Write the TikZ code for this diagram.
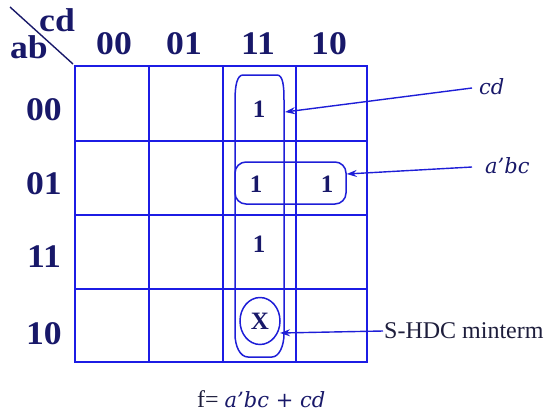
\documentclass[tikz,border=0pt]{standalone}
\usepackage{fontspec}
\setmainfont{Liberation Serif}
\newfontfamily\termfont{DejaVu Serif}
\usetikzlibrary{arrows.meta,shapes.geometric}
\definecolor{gridblue}{RGB}{28,28,228}
\definecolor{loopblue}{RGB}{30,30,215}
\definecolor{navy}{RGB}{24,24,105}
\definecolor{inkdark}{RGB}{30,30,60}
\newcommand{\widetext}[1]{\scalebox{1.08}[1]{#1}}
\tikzset{
  gridline/.style={gridblue, line width=2.8pt},
  loopline/.style={loopblue, line width=1.5pt},
  headlabel/.style={navy, font=\bfseries\fontsize{33}{33}\selectfont, inner sep=0pt},
  cellval/.style={navy, font=\bfseries\fontsize{25}{25}\selectfont, inner sep=0pt},
  termlabel/.style={navy, font=\termfont\itshape\fontsize{21}{21}\selectfont, inner sep=1pt},
  notelabel/.style={inkdark, font=\fontsize{24}{24}\selectfont, inner sep=1pt},
  pointer/.style={loopblue, line width=1.4pt, -{Stealth[length=10pt,width=7pt]}}
}
\begin{document}
\begin{tikzpicture}[x=1pt,y=-1pt]
\useasboundingbox (0,0) rectangle (560,416);

% corner split with variable names
\node[headlabel] (cdvar) at (57,20) {\widetext{cd}};
\node[headlabel] (abvar) at (29,47) {\widetext{ab}};
\draw[navy, line width=1.4pt] (10,7) -- (73,64);

% column headings
\node[headlabel] (c00) at (114,44) {\widetext{00}};
\node[headlabel] (c01) at (184,44) {\widetext{01}};
\node[headlabel] (c11) at (258,44) {\widetext{11}};
\node[headlabel] (c10) at (329,44) {\widetext{10}};
% row headings
\node[headlabel] (r00) at (44,110) {\widetext{00}};
\node[headlabel] (r01) at (44,184) {\widetext{01}};
\node[headlabel] (r11) at (44,257) {\widetext{11}};
\node[headlabel] (r10) at (44,334) {\widetext{10}};

% map grid
\foreach \x in {149,223,296} \draw[gridline] (\x,66) -- (\x,362);
\foreach \y in {141,215,289} \draw[gridline] (75,\y) -- (367,\y);
\draw[gridline] (75,66) rectangle (367,362);

% cell entries
\node[cellval] (m3) at (259,109) {1};
\node[cellval] (m7) at (256,184) {1};
\node[cellval] (m6) at (327,184) {1};
\node[cellval] (m15) at (259,244) {1};
\node[cellval, draw=loopblue, line width=1.5pt, ellipse, inner sep=0pt, minimum width=40pt, minimum height=47pt] (m11) at (260,321) {X};

% group cd (column 11)
\draw[loopline] (243,75) -- (277,75) .. controls (283,75) and (284,86) .. (284,100)
  -- (284,334) .. controls (284,346) and (279,357) .. (272,357) -- (248,357)
  .. controls (240,357) and (235,346) .. (235,334) -- (235,100)
  .. controls (235,86) and (237,75) .. (243,75) -- cycle;
\coordinate (cdtip) at (285,112);

% group a'bc (row 01, columns 11 and 10)
\node[draw=loopblue, line width=1.5pt, rounded corners=11pt, minimum width=111pt, minimum height=42pt, inner sep=0pt] (abc) at (290.5,183) {};

% term labels and pointers
\node[termlabel, anchor=west] (cdlbl) at (478,87) {cd};
\node[termlabel, anchor=west] (abclbl) at (484,166) {a’bc};
\node[notelabel, anchor=west] (hdc) at (383,331) {S-HDC minterm};
\coordinate (hdctip) at (280,333);

\draw[pointer] (cdlbl.west) ++(-6,1) -- (cdtip);
\draw[pointer] (abclbl.west) ++(-12,1) -- (abc.east |- 0,174);
\draw[pointer] (hdc.west) -- (hdctip);

% resulting expression
\node[notelabel, anchor=base west] (expr) at (196,407) {f= {\termfont\itshape\fontsize{21}{21}\selectfont\color{navy}a’bc + cd}};
\end{tikzpicture}
\end{document}
